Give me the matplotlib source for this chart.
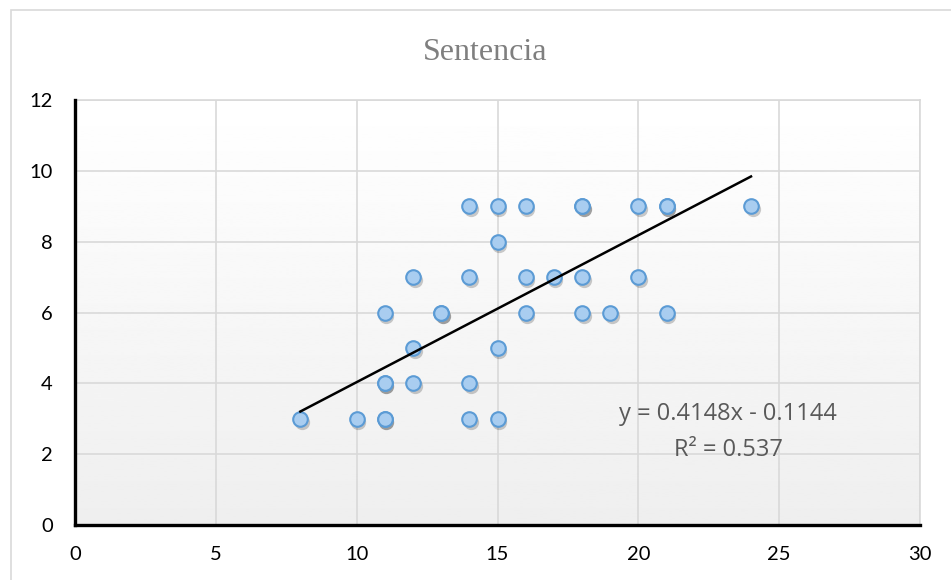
import numpy as np
import matplotlib.pyplot as plt
import matplotlib.transforms as mtransforms
from matplotlib.patches import Rectangle

# datos (los puntos repetidos aparecen con sombra mas oscura)
x_vals = [14, 15, 16, 18, 18, 20, 21, 21, 24,
          15,
          12, 14, 16, 17, 18, 20,
          11, 13, 13, 16, 18, 19, 21,
          12, 15,
          11, 11, 12, 14,
          8, 10, 11, 11, 14, 15]
y_vals = [9, 9, 9, 9, 9, 9, 9, 9, 9,
          8,
          7, 7, 7, 7, 7, 7,
          6, 6, 6, 6, 6, 6, 6,
          5, 5,
          4, 4, 4, 4,
          3, 3, 3, 3, 3, 3]
pendiente = 0.4148
intercepto = -0.1144
r2 = 0.537
titulo = 'Sentencia'
x_ticks = [0, 5, 10, 15, 20, 25, 30]
y_ticks = [0, 2, 4, 6, 8, 10, 12]

x = np.array(x_vals)
y = np.array(y_vals)

fig = plt.figure(figsize=(9.51, 5.8), dpi=100)
fig.patches.append(Rectangle((11/951, -0.05), 1.0, 1 - 10/580 + 0.05,
                             transform=fig.transFigure, fill=False,
                             edgecolor='#d9d9d9', linewidth=1.2))

ax = fig.add_axes([75/951, 55/580, 845/951, 425/580])

# fondo con degradado
grad = np.linspace(1.0, 0.935, 256).reshape(-1, 1)
ax.imshow(grad, cmap='gray', vmin=0, vmax=1, extent=[0, 1, 0, 1],
          transform=ax.transAxes, aspect='auto', zorder=0)

ax.set_xlim(0, 30)
ax.set_ylim(0, 12)
ax.set_xticks(x_ticks)
ax.set_yticks(y_ticks)
ax.grid(True, color='#d9d9d9', linewidth=1.2, zorder=1)
ax.set_axisbelow(True)
ax.tick_params(length=0, labelsize=14.5)
for lab in ax.get_xticklabels() + ax.get_yticklabels():
    lab.set_fontfamily('Lato')
ax.tick_params(axis='x', pad=15)
ax.tick_params(axis='y', pad=16)

for s in ['top', 'right']:
    ax.spines[s].set_color('#d9d9d9')
    ax.spines[s].set_linewidth(1.2)
for s in ['left', 'bottom']:
    ax.spines[s].set_color('black')
    ax.spines[s].set_linewidth(2.4)
    ax.spines[s].set_zorder(5)

# sombra de los marcadores
sombra = mtransforms.offset_copy(ax.transData, fig=fig, x=1.5, y=-3, units='dots')
for xi, yi in zip(x, y):
    ax.plot(xi, yi, 'o', ms=11, color='black', alpha=0.2, mew=0,
            transform=sombra, zorder=2)

ax.plot(x, y, 'o', ms=10.5, mfc='#a9cdf0', mec='#5b9bd5', mew=1.5,
        linestyle='none', zorder=3)

# linea de tendencia
xt = np.array([x.min(), x.max()])
ax.plot(xt, pendiente * xt + intercepto, color='black', lw=1.8, zorder=4)

ax.text(0.773, 0.261, 'y = %.4fx - %.4f' % (pendiente, -intercepto),
        transform=ax.transAxes, ha='center', va='center', fontsize=17,
        color='#595959', family='Open Sans', zorder=6)
ax.text(0.773, 0.176, 'R² = %.3f' % r2,
        transform=ax.transAxes, ha='center', va='center', fontsize=17,
        color='#595959', family='Open Sans', zorder=6)

fig.text(485/951, 1 - 60/580, titulo, ha='center', va='baseline',
         fontsize=23, color='#7f7f7f', family='Liberation Serif')

fig.savefig('out.png', dpi=100)
